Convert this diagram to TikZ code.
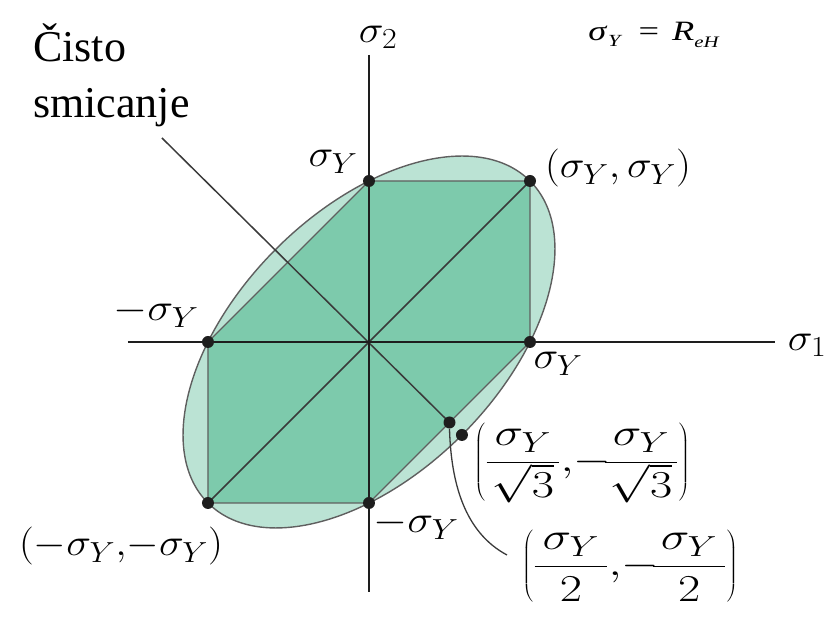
\RequirePackage{fix-cm}
\documentclass[tikz,border=0pt]{standalone}
\usepackage{graphicx}
\usepackage{fontspec}
\setmainfont{Liberation Serif}
\DeclareMathSizes{38}{38}{29}{22}
\newcommand\xsc[2]{\scalebox{#1}[1]{#2}}
\definecolor{hexfill}{HTML}{7DCAAC}
\definecolor{ellfill}{HTML}{BBE3D4}
\definecolor{edgegray}{HTML}{5F5F5F}
\definecolor{linegray}{HTML}{3A3A3A}
\definecolor{axisblack}{HTML}{1E1E1E}
\begin{document}
\begin{tikzpicture}[x=1pt,y=1pt,
  dot/.style={circle,fill=axisblack,inner sep=0pt,minimum size=12pt},
  axisline/.style={draw=axisblack,line width=1.8pt},
  shearline/.style={draw=linegray,line width=1.5pt},
  edgeline/.style={draw=edgegray,line width=1.4pt},
  lab/.style={font=\fontsize{38}{40}\selectfont,inner sep=0pt},
  txt/.style={font=\fontsize{44}{46}\selectfont,inner sep=0pt,anchor=base west},
  formula/.style={font=\fontsize{28}{28}\selectfont,inner sep=0pt}]
\useasboundingbox (-369,-278) rectangle (469,342);
% key points
\coordinate (O) at (0,0);
\coordinate (T) at (0,161);
\coordinate (TR) at (161,161);
\coordinate (L) at (-161,0);
\coordinate (R) at (161,0);
\coordinate (BL) at (-161,-161);
\coordinate (B) at (0,-161);
\coordinate (H) at (80.5,-80.5);
\coordinate (E) at (92.95,-92.95);
\coordinate (PS) at (-207,204);
\coordinate (XL) at (-241,0);
\coordinate (XR) at (406,0);
\coordinate (YT) at (0,287);
\coordinate (YB) at (0,-250);
\coordinate (CE) at (138,-213);
% von Mises ellipse
\draw[edgeline,fill=ellfill,rotate around={45:(O)}] (O) ellipse [x radius=227.7, y radius=131.5];
% Tresca hexagon
\draw[edgeline,fill=hexfill] (T) -- (TR) -- (R) -- (B) -- (BL) -- (L) -- cycle;
\draw[shearline] (BL) -- (TR);
\draw[shearline] (PS) -- (H);
% axes
\draw[axisline] (XL) -- (XR);
\draw[axisline] (YT) -- (YB);
% dots
\foreach \p in {T,TR,L,R,BL,B,H,E} \node[dot] (d\p) at (\p) {};
% pointer curve
\draw[shearline,line width=1.3pt] (dH.south) .. controls (82,-140) and (95,-190) .. (CE);
% labels
\node[lab] (s1) at (438,-3) {\xsc{1.1}{$\sigma_1$}};
\node[lab] (s2) at (9,305) {\xsc{1.1}{$\sigma_2$}};
\node[lab] (lT) at (-36,180) {\xsc{1.1}{$\sigma_Y$}};
\node[lab] (lL) at (-213,29) {\xsc{1.15}{$-\sigma_Y$}};
\node[lab] (lR) at (189,-22) {\xsc{1.1}{$\sigma_Y$}};
\node[lab] (lB) at (47,-183) {\xsc{1.15}{$-\sigma_Y$}};
\node[lab] (lTR) at (249,174) {\xsc{1.1}{$(\sigma_Y,\sigma_Y)$}};
\node[lab] (lBL) at (-248,-204) {\xsc{1.1}{$({-}\sigma_Y{,}{-}\sigma_Y)$}};
\node[lab] (lE) at (213,-121) {\xsc{1.27}{$\displaystyle\left(\frac{\mkern3mu\sigma_Y\mkern3mu}{\sqrt{3}},\!-\!\frac{\mkern3mu\sigma_Y\mkern3mu}{\sqrt{3}}\right)$}};
\node[lab] (lH) at (261,-224) {\xsc{1.27}{$\displaystyle\left(\frac{\mkern3mu\sigma_Y\mkern3mu}{2},\!-\!\frac{\mkern3mu\sigma_Y\mkern3mu}{2}\right)$}};
\node[txt] (c1) at (-336,280) {Čisto};
\node[txt] (c2) at (-336,224) {smicanje};
\node[formula] (form) at (284.5,307.5) {\xsc{1.3}{\itshape σ\hspace{1.5pt}\raisebox{-6pt}{\fontsize{17}{17}\selectfont Y}\hspace{14pt}\upshape=\hspace{10pt}\itshape R\raisebox{-7pt}{\fontsize{16}{16}\selectfont eH}}};
\end{tikzpicture}
\end{document}
